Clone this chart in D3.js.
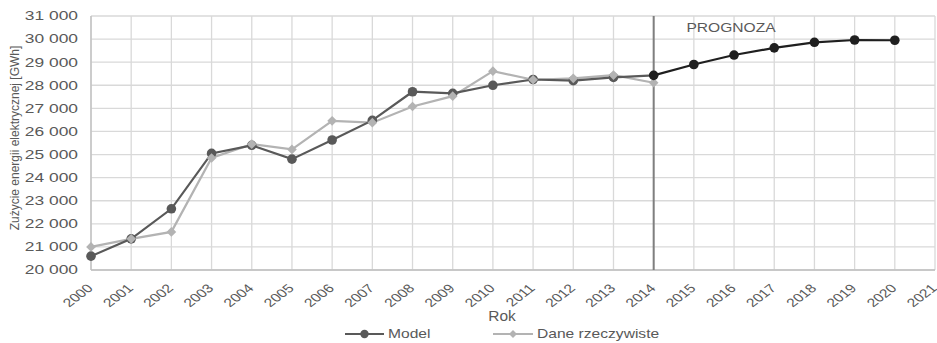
<!DOCTYPE html>
<html><head><meta charset="utf-8">
<script src="https://cdn.jsdelivr.net/npm/d3@7"></script>
<style>body{margin:0;background:#fff}svg{display:block;font-family:"Liberation Sans",Arial,sans-serif}</style>
</head><body><svg id="c" width="937" height="343"></svg>
<script>
const years = [2000,2001,2002,2003,2004,2005,2006,2007,2008,2009,2010,2011,2012,2013,2014,2015,2016,2017,2018,2019,2020,2021];
const histYears = [2000,2001,2002,2003,2004,2005,2006,2007,2008,2009,2010,2011,2012,2013,2014];
const modelHist = [20600,21350,22650,25050,25400,24800,25630,26480,27720,27650,28000,28250,28200,28340,28430];
const actual = [21000,21350,21650,24850,25450,25220,26460,26380,27080,27530,28610,28240,28300,28440,28110];
const forecastYears = [2014,2015,2016,2017,2018,2019,2020];
const forecast = [28430,28900,29310,29620,29860,29960,29950];
const yTicks = [20000,21000,22000,23000,24000,25000,26000,27000,28000,29000,30000,31000];
const seriesNames = ["Model","Dane rzeczywiste"];
const forecastLabel = "PROGNOZA";
const yTitle = "Zużycie energii elektrycznej [GWh]";
const xTitle = "Rok";

const SX = 1.3;
const txt = "#595959";
const svg = d3.select("#c");
const x = d3.scaleLinear().domain([2000,2021]).range([91,935]);
const y = d3.scaleLinear().domain([20000,31000]).range([270,16]);
const fmt = v => d3.format(",")(v).replace(/,/g," ");

// grid
svg.append("g").selectAll("line").data(yTicks).join("line")
  .attr("x1",x(2000)).attr("x2",x(2021)).attr("y1",d=>y(d)).attr("y2",d=>y(d))
  .attr("stroke","#d9d9d9").attr("stroke-width",1.3);
svg.append("g").selectAll("line").data(years).join("line")
  .attr("x1",d=>x(d)).attr("x2",d=>x(d)).attr("y1",y(20000)).attr("y2",y(31000))
  .attr("stroke","#d9d9d9").attr("stroke-width",1.3);
// axes lines
svg.append("line").attr("x1",x(2000)).attr("x2",x(2021)).attr("y1",y(20000)).attr("y2",y(20000)).attr("stroke","#bfbfbf").attr("stroke-width",1.3);
svg.append("line").attr("x1",x(2000)).attr("x2",x(2000)).attr("y1",y(20000)).attr("y2",y(31000)).attr("stroke","#bfbfbf").attr("stroke-width",1.3);

// y tick labels
svg.append("g").selectAll("text").data(yTicks).join("text")
  .attr("transform",d=>`translate(78,${y(d)}) scale(1.45,1)`)
  .attr("text-anchor","end").attr("dy","0.36em")
  .attr("font-size",12).attr("fill",txt).text(fmt);
// x tick labels
svg.append("g").selectAll("text").data(years).join("text")
  .attr("transform",d=>`translate(${x(d)-1},286) scale(${SX},1) rotate(-45)`)
  .attr("text-anchor","end").attr("dy","0.35em")
  .attr("font-size",12).attr("fill",txt).text(d=>d);

// forecast divider
svg.append("line").attr("x1",x(2014)).attr("x2",x(2014)).attr("y1",y(31000)).attr("y2",y(20000))
  .attr("stroke","#7f7f7f").attr("stroke-width",2);
svg.append("text").attr("transform",`translate(731,32) scale(${SX},1)`).attr("text-anchor","middle")
  .attr("font-size",12).attr("fill",txt).text(forecastLabel);

const line = d3.line().x(d=>x(d[0])).y(d=>y(d[1]));
const actualPts = histYears.map((yr,i)=>[yr,actual[i]]);
const modelPts = histYears.map((yr,i)=>[yr,modelHist[i]]);
const fcPts = forecastYears.map((yr,i)=>[yr,forecast[i]]);
const cMod = "#595959", cAct = "#b3b3b3", cFc = "#1f1f1f";
const diamond = d3.symbol().type(d3.symbolDiamond2).size(60);

svg.append("path").attr("d",line(actualPts)).attr("fill","none").attr("stroke",cAct).attr("stroke-width",2.2);
svg.append("path").attr("d",line(modelPts)).attr("fill","none").attr("stroke",cMod).attr("stroke-width",2.2);
svg.append("path").attr("d",line(fcPts)).attr("fill","none").attr("stroke",cFc).attr("stroke-width",2.2);
svg.append("g").selectAll("circle").data(modelPts.slice(0,-1)).join("circle")
  .attr("cx",d=>x(d[0])).attr("cy",d=>y(d[1])).attr("r",4.8).attr("fill",cMod);
svg.append("g").selectAll("path").data(actualPts).join("path")
  .attr("transform",d=>`translate(${x(d[0])},${y(d[1])})`).attr("d",diamond).attr("fill",cAct);
svg.append("g").selectAll("circle").data(fcPts).join("circle")
  .attr("cx",d=>x(d[0])).attr("cy",d=>y(d[1])).attr("r",4.8).attr("fill",cFc);

// titles
svg.append("text").attr("transform","translate(15,138) rotate(-90)").attr("text-anchor","middle")
  .attr("dy","0.35em").attr("font-size",12).attr("fill",txt).text(yTitle);
svg.append("text").attr("transform",`translate(502,316) scale(${SX*0.85},1)`).attr("text-anchor","middle")
  .attr("dy","0.35em").attr("font-size",14).attr("fill",txt).text(xTitle);

// legend
const leg = [{n:seriesNames[0],x0:345,x1:384,c:cMod,t:"c"},{n:seriesNames[1],x0:493,x1:533,c:cAct,t:"d"}];
const lg = svg.append("g");
leg.forEach(l=>{
  lg.append("line").attr("x1",l.x0).attr("x2",l.x1).attr("y1",334).attr("y2",334).attr("stroke",l.c).attr("stroke-width",2.2);
  if(l.t==="c") lg.append("circle").attr("cx",(l.x0+l.x1)/2).attr("cy",334).attr("r",4.2).attr("fill",l.c);
  else lg.append("path").attr("transform",`translate(${(l.x0+l.x1)/2},334)`).attr("d",d3.symbol().type(d3.symbolDiamond2).size(40)).attr("fill",l.c);
  lg.append("text").attr("transform",`translate(${l.x1+4},334) scale(${SX},1)`).attr("dy","0.36em")
    .attr("font-size",12).attr("fill",txt).text(l.n);
});
</script></body></html>
